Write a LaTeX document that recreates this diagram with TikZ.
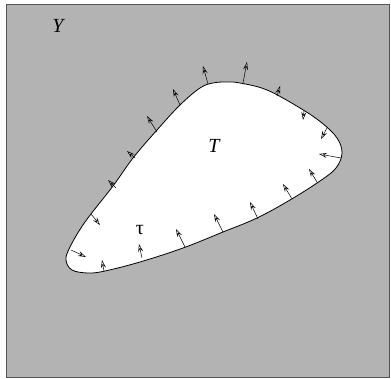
\documentclass[tikz,border=0pt]{standalone}
\usepackage{fontspec}
\setmainfont{Liberation Serif}
\usepackage{tikz}
\usetikzlibrary{arrows.meta}
\definecolor{PlaneGray}{HTML}{B3B3B3}
\definecolor{FrameGray}{HTML}{555555}

\begin{document}
\begin{tikzpicture}[x=1pt,y=-1pt,font=\fontsize{20}{22}\selectfont,
    >={Stealth[length=8pt,width=5pt,inset=3pt,open]}]
  \useasboundingbox (0,0) rectangle (391,379);

  % Ambient region Y.
  \fill[PlaneGray] (6,4) rectangle (389,377);
  \draw[FrameGray,line width=0.8pt] (6,4) rectangle (389,377);
  \node (labelY) at (58,26) {\itshape Y};

  % Region T.
  \draw[fill=white,line width=0.8pt]
    plot[smooth cycle,tension=0.6] coordinates {(200,88) (213,83) (227,82)
    (240,83) (267,90) (300,108) (322,123) (337,138) (342,153) (336,168)
    (320,181) (290,200) (257,218) (223,232) (183,248) (140,262)
    (105,271) (88,273) (72,270) (66,260) (70,247) (85,222) (113,186)
    (133,158) (157,130) (180,105)};
  \node (labelT) at (214,146) {\itshape T};
  \node (labeltau) at (140,230) {τ};

  % Field along the boundary.
  \draw[->,line width=0.5pt] (208,84) -- (203,66);
  \draw[->,line width=0.5pt] (243,83) -- (247,62);
  \draw[->,line width=0.5pt] (277,96) -- (280,86);
  \draw[->,line width=0.5pt] (304,111) -- (303,120);
  \draw[->,line width=0.5pt] (327,128) -- (321,139);
  \draw[->,line width=0.5pt] (341,158) -- (319,154);
  \draw[->,line width=0.5pt] (317,182) -- (309,169);
  \draw[->,line width=0.5pt] (292,199) -- (283,184);
  \draw[->,line width=0.5pt] (258,219) -- (250,202);
  \draw[->,line width=0.5pt] (223,232) -- (214,214);
  \draw[->,line width=0.5pt] (185,247) -- (176,229);
  \draw[->,line width=0.5pt] (142,258) -- (139,244);
  \draw[->,line width=0.5pt] (104,271) -- (102,260);
  \draw[->,line width=0.5pt] (71,250) -- (86,257);
  \draw[->,line width=0.5pt] (91,214) -- (100,225);
  \draw[->,line width=0.5pt] (116,188) -- (108,180);
  \draw[->,line width=0.5pt] (135,158) -- (127,151);
  \draw[->,line width=0.5pt] (157,132) -- (147,116);
  \draw[->,line width=0.5pt] (180,105) -- (173,89);
\end{tikzpicture}
\end{document}
